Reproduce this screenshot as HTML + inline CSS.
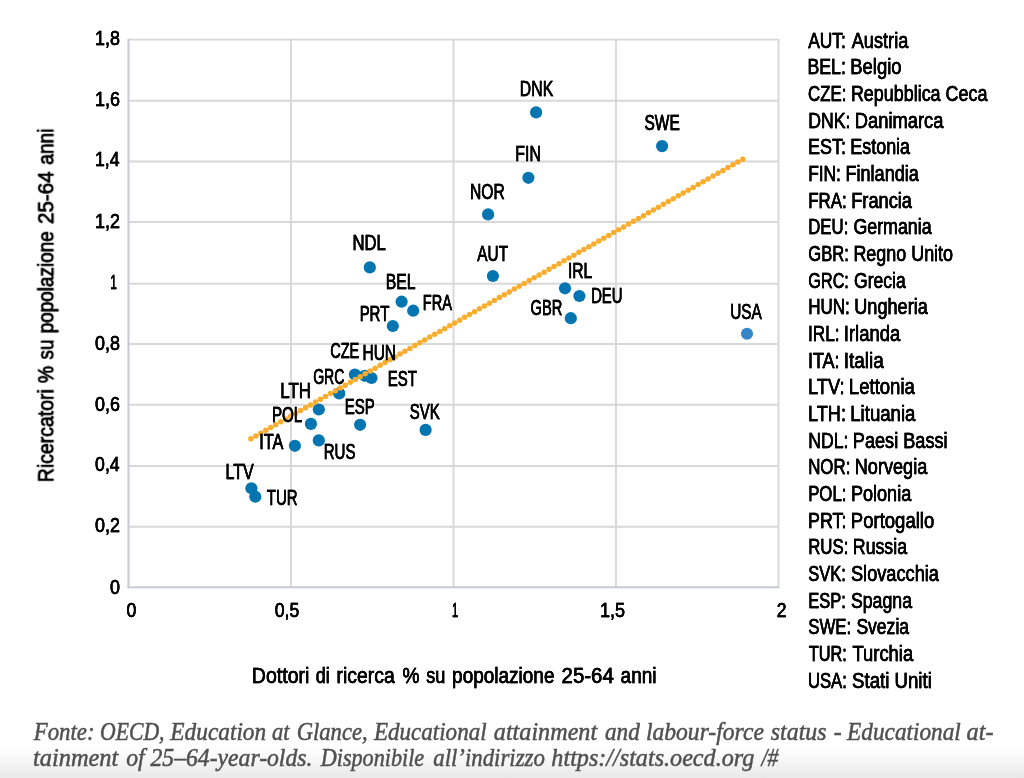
<!DOCTYPE html>
<html lang="it"><head><meta charset="utf-8"><title>Dottori di ricerca e ricercatori</title>
<style>
html,body{margin:0;padding:0;background:#fff;}
body{width:1024px;height:778px;overflow:hidden;position:relative;}
svg{position:absolute;left:0;top:0;display:block;}
.t{font-family:"Liberation Sans",sans-serif;fill:#000;stroke:#000;stroke-width:0.45px;}
.tg{filter:drop-shadow(0.75px 0 0 #000);}
.s{font-family:"Liberation Serif",serif;font-style:italic;fill:#505050;stroke:#505050;stroke-width:0.5px;}
</style></head><body>
<svg width="1024" height="778" viewBox="0 0 1024 778">
<defs><linearGradient id="bg" x1="0" y1="0" x2="0" y2="1"><stop offset="0" stop-color="#ffffff"/><stop offset="1" stop-color="#e9e9e9"/></linearGradient></defs>
<rect x="0" y="0" width="1024" height="778" fill="#fff"/>
<rect x="0" y="749" width="1024" height="29" fill="url(#bg)"/>

<g stroke="#d8d8d8" stroke-width="1.9" fill="none">
<line x1="128.5" y1="526.8" x2="778.5" y2="526.8"/>
<line x1="128.5" y1="465.95" x2="778.5" y2="465.95"/>
<line x1="128.5" y1="404.8" x2="778.5" y2="404.8"/>
<line x1="128.5" y1="344" x2="778.5" y2="344"/>
<line x1="128.5" y1="283.8" x2="778.5" y2="283.8"/>
<line x1="128.5" y1="222" x2="778.5" y2="222"/>
<line x1="128.5" y1="161.5" x2="778.5" y2="161.5"/>
<line x1="128.5" y1="100.8" x2="778.5" y2="100.8"/>
<line x1="128.5" y1="39.65" x2="778.5" y2="39.65"/>
<line x1="291" y1="38.75" x2="291" y2="587.3"/>
<line x1="453.5" y1="38.75" x2="453.5" y2="587.3"/>
<line x1="616" y1="38.75" x2="616" y2="587.3"/>
<line x1="778.5" y1="38.75" x2="778.5" y2="587.3"/>
</g>
<g stroke="#c9cbd4" stroke-width="2.1" fill="none"><line x1="128.5" y1="38.75" x2="128.5" y2="588.3"/><line x1="127.5" y1="587.3" x2="779.4" y2="587.3"/></g>
<g fill="#0475b1">
<circle cx="354.9" cy="374.5" r="6.1"/>
<circle cx="364.8" cy="375.8" r="6.1"/>
<circle cx="371.5" cy="378" r="6.1"/>
<circle cx="339.2" cy="393.4" r="6.1"/>
<circle cx="318.8" cy="409.5" r="6.1"/>
<circle cx="310.9" cy="423.9" r="6.1"/>
<circle cx="360.1" cy="424.8" r="6.1"/>
<circle cx="425.6" cy="429.9" r="6.1"/>
<circle cx="318.8" cy="440.4" r="6.1"/>
<circle cx="294.9" cy="445.8" r="6.1"/>
<circle cx="251.4" cy="488.3" r="6.1"/>
<circle cx="255.3" cy="496.7" r="6.1"/>
<circle cx="369.8" cy="267.4" r="6.1"/>
<circle cx="401.6" cy="301.7" r="6.1"/>
<circle cx="413.2" cy="310.7" r="6.1"/>
<circle cx="392.8" cy="326" r="6.1"/>
<circle cx="492.9" cy="276" r="6.1"/>
<circle cx="536.1" cy="112.4" r="6.1"/>
<circle cx="662.1" cy="146.1" r="6.1"/>
<circle cx="528.4" cy="177.8" r="6.1"/>
<circle cx="488.1" cy="214.4" r="6.1"/>
<circle cx="565" cy="288.3" r="6.1"/>
<circle cx="579.4" cy="296" r="6.1"/>
<circle cx="570.8" cy="318.2" r="6.1"/>
</g>
<circle cx="747" cy="333.7" r="6.05" fill="#3585c9"/>
<line x1="250.9" y1="438.8" x2="742.9" y2="159.1" stroke="#f9ad2f" stroke-width="5.5" stroke-linecap="round" stroke-dasharray="0 5.716" fill="none"/>
<g class="tg">
<g>
<text class="t" x="352.51" y="249.5" font-size="21.5" textLength="33.32" lengthAdjust="spacingAndGlyphs">NDL</text>
<text class="t" x="385.67" y="288.8" font-size="21.5" textLength="29.84" lengthAdjust="spacingAndGlyphs">BEL</text>
<text class="t" x="422.76" y="309.6" font-size="21.5" textLength="29.17" lengthAdjust="spacingAndGlyphs">FRA</text>
<text class="t" x="359.63" y="321.2" font-size="21.5" textLength="29.71" lengthAdjust="spacingAndGlyphs">PRT</text>
<text class="t" x="477.33" y="260.7" font-size="21.5" textLength="30.71" lengthAdjust="spacingAndGlyphs">AUT</text>
<text class="t" x="330.22" y="357.6" font-size="21.5" textLength="29.01" lengthAdjust="spacingAndGlyphs">CZE</text>
<text class="t" x="362.49" y="360.3" font-size="21.5" textLength="33.56" lengthAdjust="spacingAndGlyphs">HUN</text>
<text class="t" x="313.14" y="383.5" font-size="21.5" textLength="31.3" lengthAdjust="spacingAndGlyphs">GRC</text>
<text class="t" x="387.83" y="385.9" font-size="21.5" textLength="29.21" lengthAdjust="spacingAndGlyphs">EST</text>
<text class="t" x="280.29" y="398" font-size="21.5" textLength="30.66" lengthAdjust="spacingAndGlyphs">LTH</text>
<text class="t" x="271.91" y="421.6" font-size="21.5" textLength="30.38" lengthAdjust="spacingAndGlyphs">POL</text>
<text class="t" x="344.73" y="413.5" font-size="21.5" textLength="30.06" lengthAdjust="spacingAndGlyphs">ESP</text>
<text class="t" x="409.78" y="419.3" font-size="21.5" textLength="29.98" lengthAdjust="spacingAndGlyphs">SVK</text>
<text class="t" x="259.37" y="449" font-size="21.5" textLength="24.04" lengthAdjust="spacingAndGlyphs">ITA</text>
<text class="t" x="323.72" y="459.3" font-size="21.5" textLength="31.76" lengthAdjust="spacingAndGlyphs">RUS</text>
<text class="t" x="225.55" y="478.9" font-size="21.5" textLength="28.3" lengthAdjust="spacingAndGlyphs">LTV</text>
<text class="t" x="266.82" y="505.2" font-size="21.5" textLength="30.77" lengthAdjust="spacingAndGlyphs">TUR</text>
<text class="t" x="519.87" y="95.55" font-size="21.5" textLength="33.29" lengthAdjust="spacingAndGlyphs">DNK</text>
<text class="t" x="644.56" y="129.7" font-size="21.5" textLength="35.19" lengthAdjust="spacingAndGlyphs">SWE</text>
<text class="t" x="515.37" y="160.7" font-size="21.5" textLength="25.51" lengthAdjust="spacingAndGlyphs">FIN</text>
<text class="t" x="469.98" y="199.2" font-size="21.5" textLength="34.73" lengthAdjust="spacingAndGlyphs">NOR</text>
<text class="t" x="567.92" y="277.6" font-size="21.5" textLength="24.39" lengthAdjust="spacingAndGlyphs">IRL</text>
<text class="t" x="591.14" y="302.9" font-size="21.5" textLength="31.41" lengthAdjust="spacingAndGlyphs">DEU</text>
<text class="t" x="530.61" y="314.7" font-size="21.5" textLength="31.86" lengthAdjust="spacingAndGlyphs">GBR</text>
<text class="t" x="730.28" y="318.7" font-size="21.5" textLength="31.54" lengthAdjust="spacingAndGlyphs">USA</text>
</g>
<g>
<text class="t" x="109.99" y="593.7" font-size="21" textLength="9.97" lengthAdjust="spacingAndGlyphs">0</text>
<text class="t" x="95.09" y="532.1" font-size="21" textLength="24.86" lengthAdjust="spacingAndGlyphs">0,2</text>
<text class="t" x="95.1" y="471.45" font-size="21" textLength="24.48" lengthAdjust="spacingAndGlyphs">0,4</text>
<text class="t" x="95.09" y="410.7" font-size="21" textLength="24.85" lengthAdjust="spacingAndGlyphs">0,6</text>
<text class="t" x="95.09" y="349.55" font-size="21" textLength="24.84" lengthAdjust="spacingAndGlyphs">0,8</text>
<text class="t" x="110.33" y="288.55" font-size="21" textLength="6.57" lengthAdjust="spacingAndGlyphs">1</text>
<text class="t" x="95.03" y="228.2" font-size="21" textLength="24.93" lengthAdjust="spacingAndGlyphs">1,2</text>
<text class="t" x="95.05" y="166.35" font-size="21" textLength="24.53" lengthAdjust="spacingAndGlyphs">1,4</text>
<text class="t" x="95.03" y="105.6" font-size="21" textLength="24.92" lengthAdjust="spacingAndGlyphs">1,6</text>
<text class="t" x="95.03" y="45.45" font-size="21" textLength="24.8" lengthAdjust="spacingAndGlyphs">1,8</text>
</g>
<g>
<text class="t" x="126.4" y="616.8" font-size="21" textLength="9.85" lengthAdjust="spacingAndGlyphs">0</text>
<text class="t" x="274.7" y="616.8" font-size="21" textLength="24.6" lengthAdjust="spacingAndGlyphs">0,5</text>
<text class="t" x="451.97" y="616.8" font-size="21" textLength="6.2" lengthAdjust="spacingAndGlyphs">1</text>
<text class="t" x="599.92" y="616.8" font-size="21" textLength="24.99" lengthAdjust="spacingAndGlyphs">1,5</text>
<text class="t" x="776.81" y="616.8" font-size="21" textLength="9.73" lengthAdjust="spacingAndGlyphs">2</text>
</g>
<text class="t" y="682.9" font-size="22.3"><tspan x="251.79" textLength="57.58" lengthAdjust="spacingAndGlyphs">Dottori</tspan> <tspan x="315.83" textLength="13.95" lengthAdjust="spacingAndGlyphs">di</tspan> <tspan x="336.61" textLength="58.15" lengthAdjust="spacingAndGlyphs">ricerca</tspan> <tspan x="402.41" textLength="17.03" lengthAdjust="spacingAndGlyphs">%</tspan> <tspan x="426.18" textLength="19.09" lengthAdjust="spacingAndGlyphs">su</tspan> <tspan x="452.07" textLength="102.43" lengthAdjust="spacingAndGlyphs">popolazione</tspan> <tspan x="561.58" textLength="52.16" lengthAdjust="spacingAndGlyphs">25-64</tspan> <tspan x="620.59" textLength="35.85" lengthAdjust="spacingAndGlyphs">anni</tspan></text>
<g>
<text class="t" y="47.7" font-size="22.3"><tspan x="808.14" textLength="37.72" lengthAdjust="spacingAndGlyphs">AUT:</tspan> <tspan x="851.75" textLength="56.52" lengthAdjust="spacingAndGlyphs">Austria</tspan></text>
<text class="t" y="74.36" font-size="22.3"><tspan x="807.53" textLength="38.36" lengthAdjust="spacingAndGlyphs">BEL:</tspan> <tspan x="850.27" textLength="51.37" lengthAdjust="spacingAndGlyphs">Belgio</tspan></text>
<text class="t" y="101.02" font-size="22.3"><tspan x="808.12" textLength="38.3" lengthAdjust="spacingAndGlyphs">CZE:</tspan> <tspan x="850.91" textLength="136.46" lengthAdjust="spacingAndGlyphs">Repubblica Ceca</tspan></text>
<text class="t" y="127.68" font-size="22.3"><tspan x="808.13" textLength="42.26" lengthAdjust="spacingAndGlyphs">DNK:</tspan> <tspan x="854.78" textLength="88.68" lengthAdjust="spacingAndGlyphs">Danimarca</tspan></text>
<text class="t" y="154.34" font-size="22.3"><tspan x="808.11" textLength="37.79" lengthAdjust="spacingAndGlyphs">EST:</tspan> <tspan x="850.31" textLength="59.76" lengthAdjust="spacingAndGlyphs">Estonia</tspan></text>
<text class="t" y="181" font-size="22.3"><tspan x="808.15" textLength="32.81" lengthAdjust="spacingAndGlyphs">FIN:</tspan> <tspan x="845.4" textLength="73.47" lengthAdjust="spacingAndGlyphs">Finlandia</tspan></text>
<text class="t" y="207.66" font-size="22.3"><tspan x="808.18" textLength="38.54" lengthAdjust="spacingAndGlyphs">FRA:</tspan> <tspan x="851.19" textLength="60.78" lengthAdjust="spacingAndGlyphs">Francia</tspan></text>
<text class="t" y="234.32" font-size="22.3"><tspan x="808.19" textLength="40.12" lengthAdjust="spacingAndGlyphs">DEU:</tspan> <tspan x="853.38" textLength="78.19" lengthAdjust="spacingAndGlyphs">Germania</tspan></text>
<text class="t" y="260.98" font-size="22.3"><tspan x="808.33" textLength="40.56" lengthAdjust="spacingAndGlyphs">GBR:</tspan> <tspan x="853.41" textLength="99.61" lengthAdjust="spacingAndGlyphs">Regno Unito</tspan></text>
<text class="t" y="287.64" font-size="22.3"><tspan x="808.35" textLength="40.52" lengthAdjust="spacingAndGlyphs">GRC:</tspan> <tspan x="853.99" textLength="51.78" lengthAdjust="spacingAndGlyphs">Grecia</tspan></text>
<text class="t" y="314.3" font-size="22.3"><tspan x="808.18" textLength="41.55" lengthAdjust="spacingAndGlyphs">HUN:</tspan> <tspan x="854.29" textLength="73.48" lengthAdjust="spacingAndGlyphs">Ungheria</tspan></text>
<text class="t" y="340.96" font-size="22.3"><tspan x="807.99" textLength="31.56" lengthAdjust="spacingAndGlyphs">IRL:</tspan> <tspan x="843.78" textLength="56.48" lengthAdjust="spacingAndGlyphs">Irlanda</tspan></text>
<text class="t" y="367.62" font-size="22.3"><tspan x="807.92" textLength="31.69" lengthAdjust="spacingAndGlyphs">ITA:</tspan> <tspan x="843.74" textLength="40.12" lengthAdjust="spacingAndGlyphs">Italia</tspan></text>
<text class="t" y="394.28" font-size="22.3"><tspan x="808.09" textLength="36.44" lengthAdjust="spacingAndGlyphs">LTV:</tspan> <tspan x="848.87" textLength="66" lengthAdjust="spacingAndGlyphs">Lettonia</tspan></text>
<text class="t" y="420.94" font-size="22.3"><tspan x="808.1" textLength="37.82" lengthAdjust="spacingAndGlyphs">LTH:</tspan> <tspan x="850.26" textLength="65.2" lengthAdjust="spacingAndGlyphs">Lituania</tspan></text>
<text class="t" y="447.6" font-size="22.3"><tspan x="808.13" textLength="40.26" lengthAdjust="spacingAndGlyphs">NDL:</tspan> <tspan x="852.79" textLength="94.8" lengthAdjust="spacingAndGlyphs">Paesi Bassi</tspan></text>
<text class="t" y="474.26" font-size="22.3"><tspan x="808.19" textLength="42.13" lengthAdjust="spacingAndGlyphs">NOR:</tspan> <tspan x="854.8" textLength="72.47" lengthAdjust="spacingAndGlyphs">Norvegia</tspan></text>
<text class="t" y="500.92" font-size="22.3"><tspan x="808.19" textLength="38.22" lengthAdjust="spacingAndGlyphs">POL:</tspan> <tspan x="850.9" textLength="60.37" lengthAdjust="spacingAndGlyphs">Polonia</tspan></text>
<text class="t" y="527.58" font-size="22.3"><tspan x="808.11" textLength="38.39" lengthAdjust="spacingAndGlyphs">PRT:</tspan> <tspan x="850.87" textLength="83.37" lengthAdjust="spacingAndGlyphs">Portogallo</tspan></text>
<text class="t" y="554.24" font-size="22.3"><tspan x="808.19" textLength="40.12" lengthAdjust="spacingAndGlyphs">RUS:</tspan> <tspan x="852.82" textLength="54.25" lengthAdjust="spacingAndGlyphs">Russia</tspan></text>
<text class="t" y="580.9" font-size="22.3"><tspan x="808.22" textLength="37.57" lengthAdjust="spacingAndGlyphs">SVK:</tspan> <tspan x="850.96" textLength="88.01" lengthAdjust="spacingAndGlyphs">Slovacchia</tspan></text>
<text class="t" y="607.56" font-size="22.3"><tspan x="808.21" textLength="37.58" lengthAdjust="spacingAndGlyphs">ESP:</tspan> <tspan x="850.98" textLength="61" lengthAdjust="spacingAndGlyphs">Spagna</tspan></text>
<text class="t" y="634.22" font-size="22.3"><tspan x="808.21" textLength="43.01" lengthAdjust="spacingAndGlyphs">SWE:</tspan> <tspan x="856.38" textLength="52.69" lengthAdjust="spacingAndGlyphs">Svezia</tspan></text>
<text class="t" y="660.88" font-size="22.3"><tspan x="808.8" textLength="38.08" lengthAdjust="spacingAndGlyphs">TUR:</tspan> <tspan x="852.47" textLength="60.69" lengthAdjust="spacingAndGlyphs">Turchia</tspan></text>
<text class="t" y="687.54" font-size="22.3"><tspan x="807.88" textLength="39.03" lengthAdjust="spacingAndGlyphs">USA:</tspan> <tspan x="852.04" textLength="79.78" lengthAdjust="spacingAndGlyphs">Stati Uniti</tspan></text>
</g>
</g>
<g transform="translate(53.3,480.75) rotate(-90)"><g class="tg"><text class="t" y="0" font-size="22.3"><tspan x="-1.4" textLength="92.91" lengthAdjust="spacingAndGlyphs">Ricercatori</tspan> <tspan x="97.86" textLength="17.13" lengthAdjust="spacingAndGlyphs">%</tspan> <tspan x="121.32" textLength="19.95" lengthAdjust="spacingAndGlyphs">su</tspan> <tspan x="147.47" textLength="102.13" lengthAdjust="spacingAndGlyphs">popolazione</tspan> <tspan x="256.72" textLength="52.67" lengthAdjust="spacingAndGlyphs">25-64</tspan> <tspan x="316.08" textLength="36.11" lengthAdjust="spacingAndGlyphs">anni</tspan></text></g></g>
<text class="s" y="739.8" font-size="24.7"><tspan x="33.75" textLength="60.82" lengthAdjust="spacingAndGlyphs">Fonte:</tspan> <tspan x="100.03" textLength="64.52" lengthAdjust="spacingAndGlyphs">OECD,</tspan> <tspan x="170.31" textLength="95.92" lengthAdjust="spacingAndGlyphs">Education</tspan> <tspan x="272.06" textLength="17.56" lengthAdjust="spacingAndGlyphs">at</tspan> <tspan x="296.68" textLength="71.02" lengthAdjust="spacingAndGlyphs">Glance,</tspan> <tspan x="374" textLength="112.57" lengthAdjust="spacingAndGlyphs">Educational</tspan> <tspan x="493.82" textLength="103.35" lengthAdjust="spacingAndGlyphs">attainment</tspan> <tspan x="605.04" textLength="34.76" lengthAdjust="spacingAndGlyphs">and</tspan> <tspan x="645.88" textLength="118.01" lengthAdjust="spacingAndGlyphs">labour-force</tspan> <tspan x="770.85" textLength="55.63" lengthAdjust="spacingAndGlyphs">status</tspan> <tspan x="833.66" textLength="7.97" lengthAdjust="spacingAndGlyphs">-</tspan> <tspan x="847.11" textLength="113.67" lengthAdjust="spacingAndGlyphs">Educational</tspan> <tspan x="966.62" textLength="27.01" lengthAdjust="spacingAndGlyphs">at-</tspan></text>
<text class="s" y="765.9" font-size="24.7"><tspan x="32.97" textLength="85.39" lengthAdjust="spacingAndGlyphs">tainment</tspan> <tspan x="126.23" textLength="186.16" lengthAdjust="spacingAndGlyphs">of 25–64-year-olds.</tspan> <tspan x="320.77" textLength="103.4" lengthAdjust="spacingAndGlyphs">Disponibile</tspan> <tspan x="433.25" textLength="111.6" lengthAdjust="spacingAndGlyphs">all’indirizzo</tspan> <tspan x="551.37" textLength="202.99" lengthAdjust="spacingAndGlyphs">https://stats.oecd.org</tspan> <tspan x="761.52" textLength="16.92" lengthAdjust="spacingAndGlyphs">/#</tspan></text>
</svg></body></html>
